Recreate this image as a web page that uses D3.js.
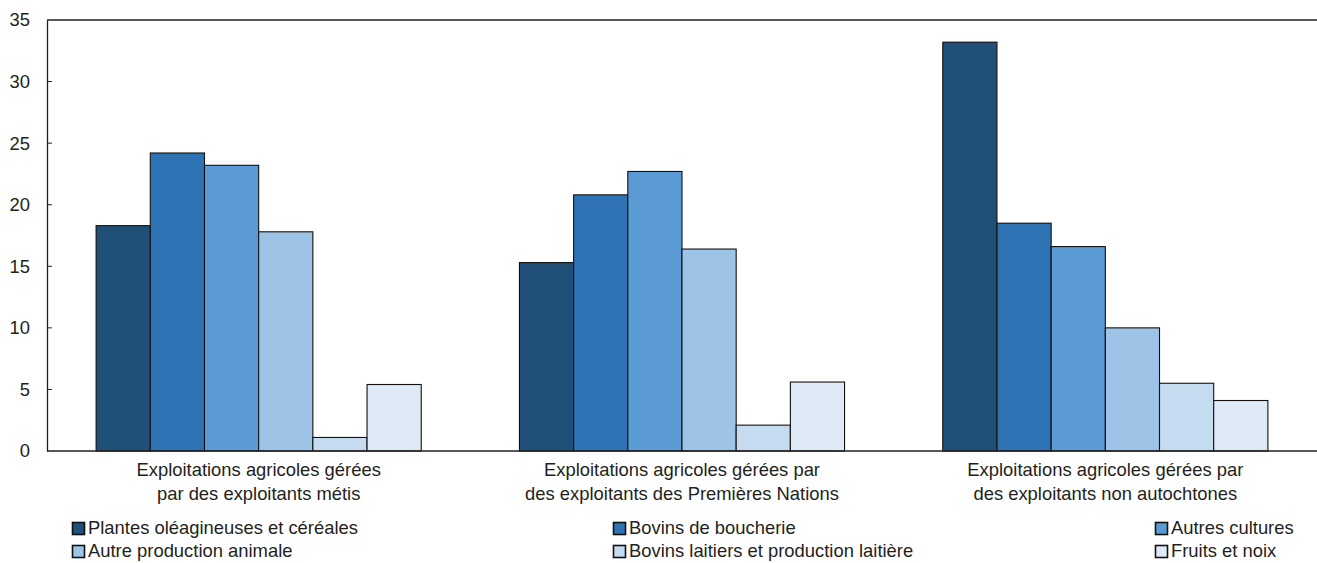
<!DOCTYPE html>
<html>
<head>
<meta charset="utf-8">
<script src="https://cdn.jsdelivr.net/npm/d3@7"></script>
<style>
  body { margin: 0; background: #fff; }
  text { font-family: "Liberation Sans Narrow", "Arial Narrow", "Liberation Sans", sans-serif; fill: #231f20; }
</style>
</head>
<body>
<div id="chart"></div>
<script>
const groups = [
    ["Exploitations agricoles gérées", "par des exploitants métis"],
    ["Exploitations agricoles gérées par", "des exploitants des Premières Nations"],
    ["Exploitations agricoles gérées par", "des exploitants non autochtones"]
];
const series = [
    "Plantes oléagineuses et céréales",
    "Bovins de boucherie",
    "Autres cultures",
    "Autre production animale",
    "Bovins laitiers et production laitière",
    "Fruits et noix"
];
const colors = ["#204f78", "#2e74b5", "#5b9bd5", "#9dc3e6", "#c5dbf0", "#deeaf6"];
// values per group, in series order
const metis = [18.3, 24.2, 23.2, 17.8, 1.1, 5.4];
const premieresNations = [15.3, 20.8, 22.7, 16.4, 2.1, 5.6];
const nonAutochtones = [33.2, 18.5, 16.6, 10.0, 5.5, 4.1];
const yTicks = [0, 5, 10, 15, 20, 25, 30, 35];

const values = [metis, premieresNations, nonAutochtones];

const width = 1317, height = 563;
const margin = { left: 47, right: 0, top: 20, bottom: 112 };
const fontSize = "18.4px";

const svg = d3.select("#chart").append("svg")
    .attr("width", width)
    .attr("height", height);

const x0 = d3.scaleBand()
    .domain(d3.range(groups.length))
    .range([margin.left, width - margin.right])
    .paddingInner(0.232)
    .paddingOuter(0.116);

const x1 = d3.scaleBand()
    .domain(d3.range(series.length))
    .range([0, x0.bandwidth()]);

const y = d3.scaleLinear()
    .domain([0, 35])
    .range([height - margin.bottom, margin.top]);

// top border
svg.append("line")
    .attr("x1", margin.left).attr("x2", width)
    .attr("y1", y(35)).attr("y2", y(35))
    .attr("stroke", "#231f20").attr("stroke-width", 1.3);

// y axis
const yAxis = svg.append("g")
    .attr("transform", `translate(${margin.left},0)`)
    .call(d3.axisLeft(y).tickValues(yTicks).tickSize(0).tickPadding(17));
yAxis.select(".domain").attr("stroke", "#231f20").attr("stroke-width", 1.3);
yAxis.selectAll("text").style("font-size", fontSize).attr("fill", "#231f20");

// small inner ticks
svg.append("g").selectAll("line")
    .data(yTicks.filter(d => d > 0 && d < 35))
    .join("line")
    .attr("x1", margin.left).attr("x2", margin.left + 5)
    .attr("y1", d => y(d)).attr("y2", d => y(d))
    .attr("stroke", "#231f20");

// bars
svg.append("g").selectAll("g")
    .data(values)
    .join("g")
    .attr("transform", (d, i) => `translate(${x0(i)},0)`)
    .selectAll("rect")
    .data(d => d)
    .join("rect")
    .attr("x", (d, j) => x1(j))
    .attr("y", d => y(d))
    .attr("width", x1.bandwidth())
    .attr("height", d => y(0) - y(d))
    .attr("fill", (d, j) => colors[j])
    .attr("stroke", "#111")
    .attr("stroke-width", 1.1);

// x axis line
svg.append("line")
    .attr("x1", margin.left).attr("x2", width)
    .attr("y1", y(0)).attr("y2", y(0))
    .attr("stroke", "#231f20").attr("stroke-width", 1.3);

// category labels
const cat = svg.append("g").selectAll("text")
    .data(groups)
    .join("text")
    .attr("x", (d, i) => x0(i) + x0.bandwidth() / 2)
    .attr("y", y(0) + 24.5)
    .attr("text-anchor", "middle")
    .style("font-size", fontSize);
cat.selectAll("tspan")
    .data(d => d)
    .join("tspan")
    .attr("x", function () { return d3.select(this.parentNode).attr("x"); })
    .attr("dy", (d, i) => i === 0 ? 0 : 24.5)
    .text(d => d);

// legend
const legX = [72, 613, 1155];
const legY = [534, 557];
const leg = svg.append("g").selectAll("g")
    .data(series)
    .join("g")
    .attr("transform", (d, i) => `translate(${legX[i % 3]},${legY[Math.floor(i / 3)]})`);
leg.append("rect")
    .attr("x", 0.5).attr("y", -11.5)
    .attr("width", 12).attr("height", 12)
    .attr("fill", (d, i) => colors[i])
    .attr("stroke", "#111").attr("stroke-width", 1.6);
leg.append("text")
    .attr("x", 16).attr("y", 0)
    .style("font-size", fontSize)
    .text(d => d);
</script>
</body>
</html>
